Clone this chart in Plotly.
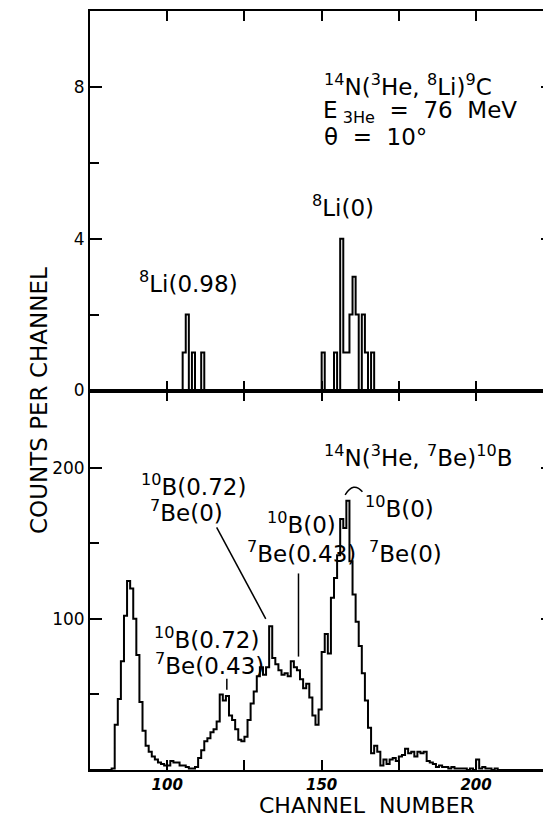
import plotly.graph_objects as go

# ---------------- data ----------------
# Top panel: 14N(3He,8Li)9C counts per channel (channels 100..169)
top_channels = list(range(100, 170))
top_counts = [0, 0, 0, 0, 0,
              1, 2, 0, 1, 0, 0, 1,
              0, 0, 0, 0, 0, 0, 0, 0, 0, 0, 0, 0, 0, 0, 0, 0, 0, 0, 0,
              0, 0, 0, 0, 0, 0, 0, 0, 0, 0, 0, 0, 0, 0, 0, 0, 0, 0, 0,
              1, 0, 0, 0, 1, 0, 4, 1, 1, 2, 3, 2, 0, 2, 1, 0, 1,
              0, 0, 0]

# Bottom panel: 14N(3He,7Be)10B counts per channel (channels 75..224)
bot_channels = list(range(75, 225))
bot_counts = [0, 0, 0, 0, 0, 0, 0,                    # 75-81
              1, 30, 47, 72, 102, 125, 120, 100, 76,   # 82-90
              45, 26, 16, 12, 9, 7, 5, 4, 3,           # 91-99
              3, 6, 5, 5, 3, 3, 2, 1, 1, 2,            # 100-109
              8, 13, 19, 21, 25, 27, 32, 50, 46, 49,   # 110-119
              36, 33, 27, 20, 19, 22, 33, 44, 52, 62,  # 120-129
              68, 63, 68, 95, 74, 70, 66, 63, 64, 62,  # 130-139
              72, 68, 66, 60, 54, 57, 48, 36, 30, 40,  # 140-149
              78, 90, 77, 114, 127, 142, 166, 160, 178, 138,  # 150-159
              116, 98, 82, 64, 46, 28, 11, 16, 12, 3,  # 160-169
              7, 4, 7, 8, 6, 9, 10, 14, 11, 12,        # 170-179
              9, 12, 11, 12, 6, 5, 4, 2, 3, 2,         # 180-189
              2, 1, 2, 1, 1, 1, 1, 0, 1, 0,            # 190-199
              7, 1, 2, 1, 1, 0, 1, 0, 0, 0,            # 200-209
              0, 0, 0, 0, 0, 0, 0, 0, 0, 0,            # 210-219
              0, 0, 0, 0, 0]                           # 220-224

x_ticks = [100, 125, 150, 175, 200]
x_ticktext = ["100", " ", "150", " ", "200"]
top_yticks = [0, 4, 8]
top_yminor = [2, 6]
bot_yticks = [100, 200]
bot_yminor = [50, 150]

FONT = "DejaVu Sans"
BLACK = "black"

fig = go.Figure()

def step_xy(ch, cnt):
    xs = list(ch) + [ch[-1] + 1]
    ys = list(cnt) + [cnt[-1]]
    return xs, ys

tx, ty = step_xy(top_channels, top_counts)
bx, by = step_xy(bot_channels, bot_counts)

fig.add_trace(go.Scatter(x=tx, y=ty, mode="lines", line=dict(color=BLACK, width=2, shape="hv"),
                         xaxis="x2", yaxis="y2", showlegend=False, hoverinfo="skip"))
fig.add_trace(go.Scatter(x=bx, y=by, mode="lines", line=dict(color=BLACK, width=2, shape="hv"),
                         xaxis="x", yaxis="y", showlegend=False, hoverinfo="skip"))

axis_common = dict(showgrid=False, zeroline=False, showline=True, linecolor=BLACK, linewidth=2,
                   ticks="inside", tickcolor=BLACK, tickwidth=2, mirror="ticks")

# page body has an 8px margin: figure pixel = screen pixel - 8
XR = [75, 224.9]
fig.update_layout(
    width=551, height=819,
    margin=dict(l=82, r=6, t=1, b=57),
    paper_bgcolor="white", plot_bgcolor="white",
    font=dict(family=FONT, color=BLACK),
    hovermode=False,
    xaxis=dict(**axis_common, domain=[0, 1], range=XR, anchor="y",
               tickvals=x_ticks, ticktext=x_ticktext, ticklen=10,
               tickfont=dict(family=FONT, size=15, style="italic", weight="bold")),
    xaxis2=dict(**axis_common, domain=[0, 1], range=XR, anchor="y2", matches="x",
                tickvals=x_ticks, ticklen=10, showticklabels=False),
    yaxis=dict(**axis_common, domain=[0, 0.5], range=[0, 251], anchor="x",
               tickvals=bot_yticks, ticklen=12, tickfont=dict(family=FONT, size=17),
               minor=dict(tickvals=bot_yminor, ticks="inside", ticklen=9, tickwidth=2, tickcolor=BLACK)),
    yaxis2=dict(**axis_common, domain=[0.5, 1], range=[0, 10], anchor="x2",
                tickvals=top_yticks, ticklen=12, tickfont=dict(family=FONT, size=17),
                minor=dict(tickvals=top_yminor, ticks="inside", ticklen=9, tickwidth=2, tickcolor=BLACK)),
)

LBL = 23

def note(text, x, y, xref, yref, size=LBL, xanchor="left"):
    fig.add_annotation(text=text, x=x, y=y, xref=xref, yref=yref, showarrow=False,
                       xanchor=xanchor, yanchor="middle", font=dict(family=FONT, size=size, color=BLACK))

# top panel labels
note("<sup>14</sup>N(<sup>3</sup>He, <sup>8</sup>Li)<sup>9</sup>C", 150.1, 8.05, "x2", "y2")
note("E<sub> 3He</sub>  =  76  MeV", 149.8, 7.35, "x2", "y2")
note("θ  =  10°", 150.1, 6.68, "x2", "y2")
note("<sup>8</sup>Li(0.98)", 90.2, 2.85, "x2", "y2")
note("<sup>8</sup>Li(0)", 146.2, 4.85, "x2", "y2")

# bottom panel labels
note("<sup>14</sup>N(<sup>3</sup>He, <sup>7</sup>Be)<sup>10</sup>B", 150.1, 207.5, "x", "y")
note("<sup>10</sup>B(0.72)", 90.9, 188.4, "x", "y")
note("<sup>7</sup>Be(0)", 93.8, 171.3, "x", "y")
note("<sup>10</sup>B(0)", 131.7, 163.4, "x", "y")
note("<sup>7</sup>Be(0.43)", 125.2, 144.3, "x", "y")
note("<sup>10</sup>B(0)", 163.4, 173.9, "x", "y")
note("<sup>7</sup>Be(0)", 164.7, 144.3, "x", "y")
note("<sup>10</sup>B(0.72)", 95.1, 87.0, "x", "y")
note("<sup>7</sup>Be(0.43)", 95.4, 69.8, "x", "y")

# indicator lines
fig.add_shape(type="line", x0=116.0, y0=160.4, x1=131.9, y1=100, xref="x", yref="y",
              line=dict(color=BLACK, width=1.5))
fig.add_shape(type="line", x0=142.5, y0=130, x1=142.5, y1=75, xref="x", yref="y",
              line=dict(color=BLACK, width=1.5))
fig.add_shape(type="line", x0=119.3, y0=60.4, x1=119.3, y1=53, xref="x", yref="y",
              line=dict(color=BLACK, width=1.5))
fig.add_shape(type="path", path="M 157.6,182 Q 160.3,191 163.2,184", xref="x", yref="y",
              line=dict(color=BLACK, width=1.5))

# axis titles (positions from screen pixels: plot spans x 90..553, y 9..770)
fig.add_annotation(text="COUNTS PER CHANNEL", textangle=-90, x=(39 - 90) / 463, y=(770 - 400) / 761,
                   xref="paper", yref="paper", showarrow=False, xanchor="center", yanchor="middle",
                   font=dict(family=FONT, size=23, color=BLACK))
fig.add_annotation(text="CHANNEL  NUMBER", x=(367 - 90) / 463, y=(770 - 806) / 761,
                   xref="paper", yref="paper", showarrow=False, xanchor="center", yanchor="middle",
                   font=dict(family=FONT, size=22, color=BLACK))

fig.write_html("out.html")
